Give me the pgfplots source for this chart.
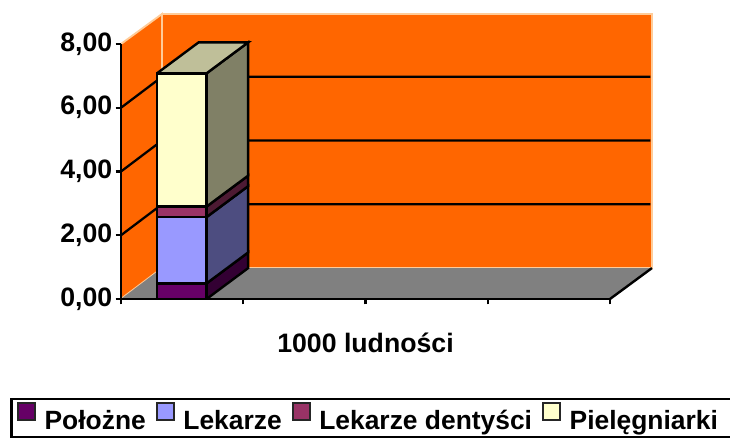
\documentclass[border=0pt]{standalone}
\usepackage{fontspec}
\setmainfont{Liberation Sans}
\usepackage{pgfplots}
\pgfplotsset{compat=1.18}
\definecolor{wallc}{HTML}{FF6600}
\definecolor{wallb}{HTML}{FFCC99}
\definecolor{floorc}{HTML}{808080}
\definecolor{cA}{HTML}{660066}\definecolor{cAs}{HTML}{330033}
\definecolor{cB}{HTML}{9999FF}\definecolor{cBs}{HTML}{4D4D80}
\definecolor{cC}{HTML}{993366}\definecolor{cCs}{HTML}{4D1A33}
\definecolor{cD}{HTML}{FFFFCC}\definecolor{cDs}{HTML}{808066}\definecolor{cDt}{HTML}{BFBF99}
\newcommand{\st}{\rule[-14pt]{0pt}{31.5pt}}
\begin{document}
\begin{tikzpicture}
\path[use as bounding box] (0,0) rectangle (547.5pt,328.5pt);
\clip (0,0) rectangle (547.5pt,328.5pt);
\begin{axis}[
  at={(90.75pt,104.25pt)}, anchor=south west,
  scale only axis, width=366.75pt, height=191.25pt,
  xmin=0, xmax=4, ymin=0, ymax=8,
  clip=false, axis on top,
  axis x line*=bottom, axis y line*=left,
  axis line style={black,line width=1.9pt,-},
  xtick={0,1,2,3,4}, xticklabels={},
  ytick={0,2,4,6,8},
  yticklabels={{0,00},{2,00},{4,00},{6,00},{8,00}},
  tick style={black,line width=1.7pt},
  major tick length=4pt,
  tick align=outside,
  y tick label style={font=\fontsize{20}{22}\selectfont\bfseries, xshift=1pt},
  xlabel={1000 ludności},
  xlabel style={font=\fontsize{20}{22}\selectfont\bfseries, at={(axis description cs:0.5,-0.173)}, anchor=center},
  legend columns=-1,
  legend style={at={(axis description cs:-0.227,-0.388)}, anchor=north west,
    draw=black, line width=1.9pt, font=\fontsize{19.8}{22}\selectfont\bfseries,
    inner xsep=4.5pt, inner ysep=2pt,
    /tikz/every even column/.style={column sep=5.7pt},
    /tikz/every odd column/.style={column sep=4.5pt}},
  legend image code/.code={\draw[#1,line width=1.5pt,draw=black!85] (0pt,-0.5pt) rectangle (12.5pt,12pt);},
]
% walls
\addplot[fill=wallc,draw=wallb,line width=1.4pt,forget plot] coordinates {(0,0)(0.335,0.97)(0.335,8.94)(0,8)(0,0)};
\addplot[fill=wallc,draw=wallb,line width=1.4pt,forget plot] coordinates {(0.335,0.97)(4.343,0.97)(4.343,8.94)(0.335,8.94)(0.335,0.97)};
% floor
\addplot[fill=floorc,draw=none,forget plot] coordinates {(0,0)(4,0)(4.343,0.97)(0.335,0.97)(0,0)};
\addplot[black,line width=1.8pt,forget plot] coordinates {(4,0)(4.343,0.97)};
% gridlines
\addplot[black,line width=1.7pt,forget plot] coordinates {(0,2)(0.335,2.97)(4.33,2.97)};
\addplot[black,line width=1.7pt,forget plot] coordinates {(0,4)(0.335,4.97)(4.33,4.97)};
\addplot[black,line width=1.7pt,forget plot] coordinates {(0,6)(0.335,6.97)(4.33,6.97)};
% bar: Położne
\addplot[fill=cAs,draw=black,line width=1.8pt,forget plot] coordinates {(0.70,0)(1.04,0.97)(1.04,1.46)(0.70,0.49)(0.70,0)};
\addplot[fill=cA,draw=black,line width=1.8pt] coordinates {(0.2945,0)(0.70,0)(0.70,0.49)(0.2945,0.49)(0.2945,0)};
\addlegendentry{Położne\st}
% Lekarze
\addplot[fill=cBs,draw=black,line width=1.8pt,forget plot] coordinates {(0.70,0.49)(1.04,1.46)(1.04,3.54)(0.70,2.57)(0.70,0.49)};
\addplot[fill=cB,draw=black,line width=1.8pt] coordinates {(0.2945,0.49)(0.70,0.49)(0.70,2.57)(0.2945,2.57)(0.2945,0.49)};
\addlegendentry{Lekarze\st}
% Lekarze dentyści
\addplot[fill=cCs,draw=black,line width=1.8pt,forget plot] coordinates {(0.70,2.57)(1.04,3.54)(1.04,3.87)(0.70,2.90)(0.70,2.57)};
\addplot[fill=cC,draw=black,line width=1.8pt] coordinates {(0.2945,2.57)(0.70,2.57)(0.70,2.90)(0.2945,2.90)(0.2945,2.57)};
\addlegendentry{Lekarze dentyści\st}
% Pielęgniarki
\addplot[fill=cDs,draw=black,line width=1.8pt,forget plot] coordinates {(0.70,2.90)(1.04,3.87)(1.04,8.05)(0.70,7.08)(0.70,2.90)};
\addplot[fill=cDt,draw=black,line width=1.8pt,forget plot] coordinates {(0.2945,7.08)(0.70,7.08)(1.04,8.05)(0.6345,8.05)(0.2945,7.08)};
\addplot[fill=cD,draw=black,line width=1.8pt] coordinates {(0.2945,2.90)(0.70,2.90)(0.70,7.08)(0.2945,7.08)(0.2945,2.90)};
\addlegendentry{Pielęgniarki\hspace{30pt}\st}
\end{axis}
\end{tikzpicture}
\end{document}
